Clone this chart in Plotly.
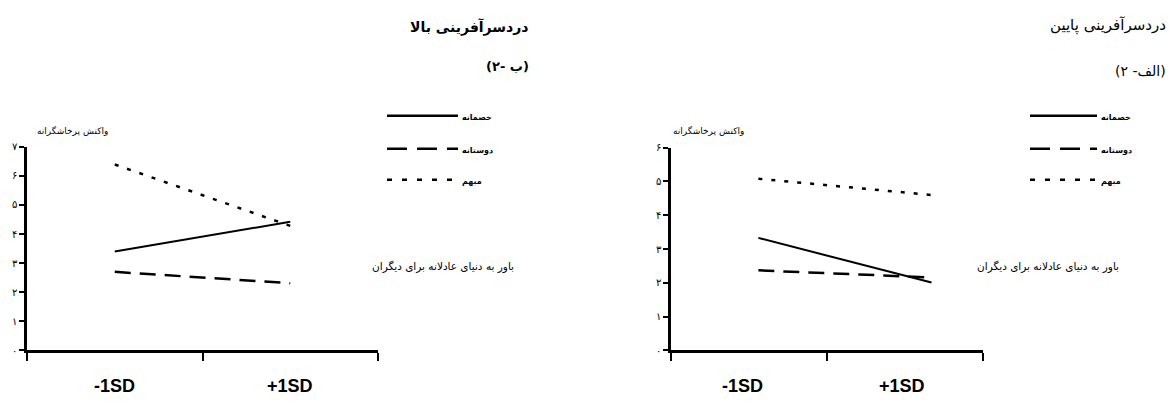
import plotly.graph_objects as go

W, H = 1173, 404

# data
groups = ["خصمانه", "دوستانه", "مبهم"]
sd_labels = ["-1SD", "+1SD"]

# panel (۲- ب): high trouble-making
high_x = [0.5, 1.5]
high_hostile = [3.4, 4.42]
high_friendly = [2.7, 2.31]
high_ambiguous = [6.39, 4.28]

# panel (۲ -الف): low trouble-making
low_x = [0.56, 1.67]
low_hostile = [3.33, 2.01]
low_friendly = [2.37, 2.16]
low_ambiguous = [5.08, 4.6]

fa_digits = ["۰", "۱", "۲", "۳", "۴", "۵", "۶", "۷"]

styles = {
    "خصمانه": dict(dash="solid", width=2),
    "دوستانه": dict(dash="16px,9px", width=2.5),
    "مبهم": dict(dash="4px,9px", width=2.5),
}
legend_dash = {"خصمانه": "solid", "دوستانه": "20px,10px", "مبهم": "5px,10px"}

FA = "DejaVu Sans"


def px(x):
    return x / W


def py(y):
    return 1 - y / H


def label(x, y, text, size, anchor="right", family=FA, xref="paper"):
    return dict(x=x, y=py(y), xref=xref, yref="paper", text=text, xanchor=anchor,
                yanchor="middle", showarrow=False,
                font=dict(family=family, size=size, color="black"))


fig = go.Figure()

for name, yv in zip(groups, [high_hostile, high_friendly, high_ambiguous]):
    fig.add_trace(go.Scatter(x=high_x, y=yv, mode="lines", name=name, showlegend=False,
                             line=dict(color="black", **styles[name]), xaxis="x", yaxis="y"))
for name, yv in zip(groups, [low_hostile, low_friendly, low_ambiguous]):
    fig.add_trace(go.Scatter(x=low_x, y=yv, mode="lines", name=name, showlegend=False,
                             line=dict(color="black", **styles[name]), xaxis="x2", yaxis="y2"))

xcommon = dict(range=[0, 2], tickvals=[0, 1, 2], showticklabels=False, ticks="outside",
               ticklen=8, tickwidth=2, tickcolor="black", showline=True, linewidth=2.5,
               linecolor="black", showgrid=False, zeroline=False, fixedrange=True)
ycommon = dict(ticks="outside", ticklen=5, tickwidth=2, tickcolor="black", showline=True,
               linewidth=2.5, linecolor="black", showgrid=False, zeroline=False,
               tickfont=dict(family=FA, size=10, color="black"), fixedrange=True)

fig.update_layout(
    width=W, height=H,
    margin=dict(l=0, r=0, t=0, b=0),
    paper_bgcolor="white", plot_bgcolor="white",
    xaxis=dict(domain=[px(27), px(378)], anchor="y", **xcommon),
    yaxis=dict(domain=[py(355), py(145)], anchor="x", range=[0, 7],
               tickvals=list(range(8)), ticktext=fa_digits[:8], **ycommon),
    xaxis2=dict(domain=[px(671), px(983)], anchor="y2", **xcommon),
    yaxis2=dict(domain=[py(355), py(146)], anchor="x2", range=[0, 6],
                tickvals=list(range(7)), ticktext=fa_digits[:7], **ycommon),
)

ann = []
# SD category labels under each panel
for xa, xs in [("x", [0.5, 1.5]), ("x2", [0.46, 1.48])]:
    for lab, xv in zip(sd_labels, xs):
        ann.append(label(xv, 392, "<b>%s</b>" % lab, 18, anchor="center",
                         family="Liberation Sans", xref=xa))

# titles
ann.append(label(px(531), 22, "<b>دردسرآفرینی بالا</b>", 14))
ann.append(label(px(531), 62, "<b>(۲- ب)</b>", 13))
ann.append(label(px(1168), 20, "دردسرآفرینی پایین", 15))
ann.append(label(px(1168), 67, "(۲ -الف)", 14))

# axis titles
for xr, xl in [(110, 516), (746, 1121)]:
    ann.append(label(px(xr), 128, "واکنش پرخاشگرانه", 9))
    ann.append(label(px(xl), 268, "باور به دنیای عادلانه برای دیگران", 10.5))

# hand-drawn legends beside each panel
shapes = []
for x0, x1 in [(387, 458), (1030, 1097)]:
    for name, yy in zip(groups, [113, 147, 179]):
        shapes.append(dict(type="line", xref="paper", yref="paper", x0=px(x0), x1=px(x1),
                           y0=py(yy), y1=py(yy),
                           line=dict(color="black", width=2.5, dash=legend_dash[name])))
        ann.append(label(px(x1 + 2), yy + 2, "<b>%s</b>" % name, 8, anchor="left"))

fig.update_layout(annotations=ann, shapes=shapes)

fig.write_html("out.html", config={"displayModeBar": False},
               post_script="document.body.style.margin='0';")
